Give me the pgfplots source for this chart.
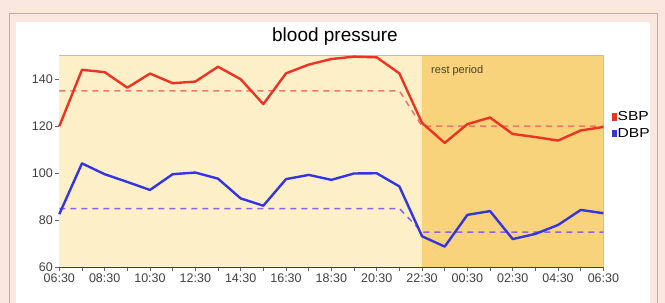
\documentclass[border=0pt]{standalone}
\usepackage{fontspec}
\setmainfont{Liberation Sans}
\usepackage{graphicx}
\usepackage{pgfplots}
\pgfplotsset{compat=1.18}
\definecolor{pinkbg}{HTML}{FAE8E0}
\definecolor{borderc}{HTML}{EE9C88}
\definecolor{cream}{HTML}{FDF0C9}
\definecolor{orng}{HTML}{F9D27C}
\definecolor{sbp}{HTML}{EE3322}
\definecolor{dbp}{HTML}{3535E0}
\definecolor{sbpd}{HTML}{EE7766}
\definecolor{dbpd}{HTML}{8866DD}
\definecolor{ticklab}{HTML}{404040}

\pgfplotstableread{
x sbp dbp
0 120 82.6
1 144 104.2
2 143 99.6
3 136.4 96.3
4 142.4 92.9
5 138.3 99.6
6 139 100.3
7 145.3 97.7
8 140 89.3
9 129.4 86.2
10 142.5 97.5
11 146.2 99.3
12 148.6 97.2
13 149.6 99.9
14 149.3 100
15 142.5 94.4
16 121.4 73.2
17 112.9 68.8
18 120.9 82.3
19 123.7 83.9
20 116.7 72
21 115.4 74.2
22 113.9 78
23 118.2 84.4
24 119.7 83
}\bp

\pgfplotstableread{
x sbpm dbpm
0 135 85
15 135 85
16 120 75
24 120 75
}\bpmean

\begin{document}
\begin{tikzpicture}[x=1pt,y=1pt]
\useasboundingbox (0,0) rectangle (665,303);
\fill[pinkbg] (0,0) rectangle (665,303);
\fill[white] (16,0) rectangle (650,281);
\draw[borderc, line width=1pt] (9,-5) -- (9,289) -- (657,289) -- (657,-5);
\node[font=\fontsize{19}{21}\selectfont] at (335,266) {blood pressure};
\begin{axis}[
  at={(59.3pt,35.7pt)}, anchor=south west,
  scale only axis, width=544.1pt, height=211.6pt,
  xmin=0, xmax=24, ymin=60, ymax=150,
  axis x line*=bottom, axis y line*=left,
  x axis line style={draw=black!75, line width=0.8pt, -},
  y axis line style={draw=black!45, line width=0.8pt, -},
  xtick={0,...,24},
  xticklabels={06:30,,08:30,,10:30,,12:30,,14:30,,16:30,,18:30,,20:30,,22:30,,00:30,,02:30,,04:30,,06:30},
  ytick={60,80,100,120,140},
  tick align=outside, major tick length=4pt,
  tick style={black!60, line width=0.6pt},
  /pgf/number format/assume math mode=true,
  ticklabel style={font=\fontsize{12.5}{14}\selectfont, text=ticklab},
  xticklabel style={yshift=1pt},
  yticklabel style={xshift=1pt},
  legend style={at={(1,0.672)}, anchor=west, xshift=8pt, draw=none, fill=none,
    inner sep=0pt, row sep=2pt, font=\fontsize{13}{14}\selectfont,
    nodes={inner xsep=0.5pt}},
  legend cell align=left,
  legend image code/.code={\fill[#1, draw=none] (0pt,-3.8pt) rectangle (5.5pt,3.8pt);},
  clip=false,
]
\fill[cream] (axis cs:0,60) rectangle (axis cs:16,150);
\fill[orng] (axis cs:16,60) rectangle (axis cs:24,150);
\draw[black!25, line width=0.5pt] (axis cs:0,150) -- (axis cs:24,150) -- (axis cs:24,60);
\node[anchor=west, text=black!50!orng!60!black, font=\fontsize{11}{12}\selectfont] at (axis cs:16.25,143.5) {rest period};
\addplot[sbpd, dashed, line width=1.5pt, dash pattern=on 6pt off 5pt, forget plot] table[x=x, y=sbpm] {\bpmean};
\addplot[dbpd, dashed, line width=1.5pt, dash pattern=on 6pt off 5pt, forget plot] table[x=x, y=dbpm] {\bpmean};
\addplot[sbp, line width=2.4pt, line join=round] table[x=x, y=sbp] {\bp};
\addplot[dbp, line width=2.4pt, line join=round] table[x=x, y=dbp] {\bp};
\legend{\scalebox{1.2}[1]{SBP}, \scalebox{1.2}[1]{DBP}}
\end{axis}
\end{tikzpicture}
\end{document}
